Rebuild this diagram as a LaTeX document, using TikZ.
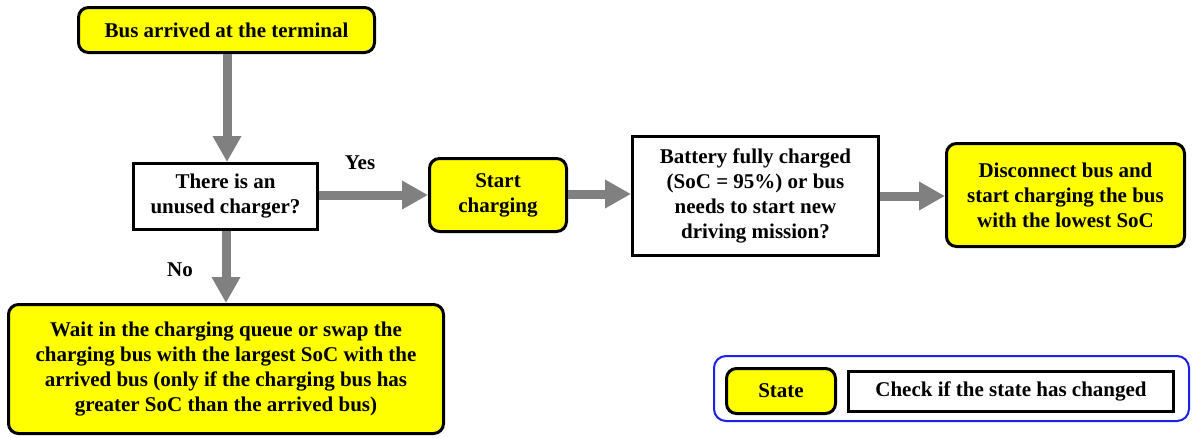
\documentclass[tikz,border=0pt]{standalone}
\usepackage{fontspec}
\setmainfont{Liberation Serif}
\usetikzlibrary{arrows.meta}
\definecolor{ybg}{RGB}{255,255,0}
\definecolor{arrowgray}{RGB}{128,128,128}
\definecolor{legblue}{RGB}{30,30,235}
\tikzset{
  base/.style={draw=black, line width=3pt, align=center, inner sep=0pt,
    font=\fontsize{21}{25}\selectfont\bfseries, text=black},
  statebox/.style={base, fill=ybg, rounded corners=10pt},
  checkbox/.style={base, fill=white},
  flow/.style={draw=arrowgray, line width=9pt, -{Triangle[length=26pt,width=27pt]}},
  lbl/.style={font=\fontsize{21}{25}\selectfont\bfseries, text=black, inner sep=0pt},
  legendframe/.style={draw=legblue, line width=2pt, rounded corners=12pt, fill=white}
}
\begin{document}
\begin{tikzpicture}[x=1pt, y=-1pt]
\useasboundingbox (0,0) rectangle (1192,437);
\fill[white] (0,0) rectangle (1192,437);

\node[statebox, minimum width=296pt, minimum height=45pt] (arrived) at (226.5,30) {Bus arrived at the terminal};
\node[checkbox, minimum width=184pt, minimum height=66pt] (unused) at (225.5,196.5) {There is an\\unused charger?};
\node[statebox, minimum width=137pt, minimum height=73pt] (start) at (498,195) {Start\\charging};
\node[checkbox, minimum width=246pt, minimum height=119pt] (full) at (755.5,196) {Battery fully charged\\(SoC = 95\%) or bus\\needs to start new\\driving mission?};
\node[statebox, minimum width=238pt, minimum height=103pt] (disc) at (1065.5,195) {Disconnect bus and\\start charging the bus\\with the lowest SoC};
\node[statebox, minimum width=435pt, minimum height=129pt] (wait) at (226,369) {Wait in the charging queue or swap the\\charging bus with the largest SoC with the\\arrived bus (only if the charging bus has\\greater SoC than the arrived bus)};

\node[legendframe, minimum width=475pt, minimum height=65pt] (legend) at (951.5,388.5) {};
\node[statebox, minimum width=109pt, minimum height=45pt] (legstate) at (781,391) {State};
\node[checkbox, minimum width=325pt, minimum height=40pt] (legcheck) at (1011,391.5) {Check if the state has changed};

\draw[flow] (arrived.south -| 227,0) -- (227,162);
\draw[flow] (unused.south -| 226,0) -- (wait.north -| 226,0);
\draw[flow] (unused.east |- 0,195) -- (start.west |- 0,195);
\draw[flow] (start.east |- 0,194) -- (full.west |- 0,194);
\draw[flow] (full.east |- 0,196) -- (disc.west |- 0,196);

\node[lbl] (yes) at (360,163) {Yes};
\node[lbl] (no) at (180,270) {No};
\end{tikzpicture}
\end{document}
